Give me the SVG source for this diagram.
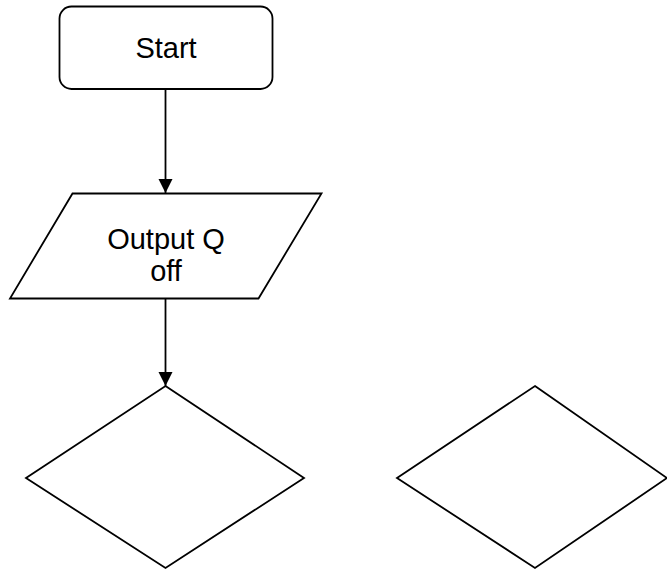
<svg xmlns="http://www.w3.org/2000/svg" width="667" height="571" viewBox="0 0 667 571">
<style>
.s{fill:#fff;stroke:#000;stroke-width:1.8;stroke-linejoin:miter}
.t{font-family:"Liberation Sans",Arial,sans-serif;font-size:29px;fill:#000;text-anchor:middle}
.c{stroke:#000;stroke-width:1.8;fill:none}
</style>
<defs>
<marker id="ah" markerUnits="userSpaceOnUse" markerWidth="16" markerHeight="16" viewBox="0 0 14 16" refX="14" refY="7" orient="auto">
<path d="M0,0 L14,7 L0,14 Z" fill="#000"/>
</marker>
</defs>
<rect width="667" height="571" fill="#fff"/>
<g id="connectors">
<line class="c" x1="165.5" y1="89" x2="165.5" y2="193" marker-end="url(#ah)"/>
<line class="c" x1="165.5" y1="298" x2="165.5" y2="386" marker-end="url(#ah)"/>
</g>
<g id="start">
<rect class="s" x="59.5" y="6.5" width="213" height="82.5" rx="12"/>
<text class="t" x="166" y="58">Start</text>
</g>
<g id="output">
<polygon class="s" points="72.5,193.5 321.5,193.5 258.5,298.5 10,298.5"/>
<text class="t" x="166" y="249">Output Q</text>
<text class="t" x="166" y="281">off</text>
</g>
<g id="decision1">
<polygon class="s" points="165.5,386 304,478 165.5,568 26,478"/>
</g>
<g id="decision2">
<polygon class="s" points="535,386 667,478 535,568 397,478"/>
</g>
</svg>
